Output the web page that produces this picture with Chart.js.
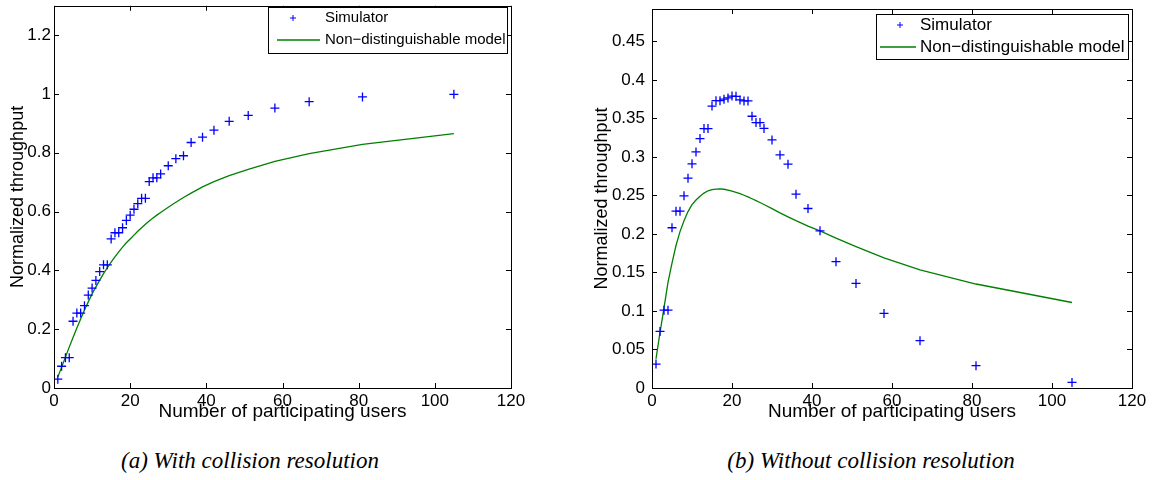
<!DOCTYPE html>
<html>
<head>
<meta charset="utf-8">
<script src="https://cdn.jsdelivr.net/npm/chart.js@4.4.1/dist/chart.umd.min.js"></script>
<style>
body { margin: 0; background: #fff; width: 1155px; height: 480px; overflow: hidden; position: relative; }
.panel { position: absolute; top: 0; height: 425px; }
.cap { position: absolute; top: 448px; font-family: "Liberation Serif", serif; font-style: italic; font-size: 23px; white-space: nowrap; transform: translateX(-50%); color: #000; }
</style>
</head>
<body>
<div class="panel" style="left:0;width:540px"><canvas id="chartA"></canvas></div>
<div class="panel" style="left:590px;width:565px"><canvas id="chartB"></canvas></div>
<div class="cap" style="left:250px">(a) With collision resolution</div>
<div class="cap" style="left:871px">(b) Without collision resolution</div>
<script>
// number of participating users (same x for both panels)
const users = [1,2,3,4,5,6,7,8,9,10,11,12,13,14,15,16,17,18,19,20,21,22,23,24,25,26,27,28,30,32,34,36,39,42,46,51,58,67,81,105];

// (a) with collision resolution
const simA = [0.030,0.074,0.103,0.103,0.227,0.255,0.255,0.280,0.316,0.340,0.366,0.396,0.419,0.419,0.507,0.528,0.528,0.545,0.570,0.588,
              0.608,0.627,0.645,0.645,0.702,0.715,0.715,0.728,0.756,0.780,0.790,0.835,0.853,0.877,0.907,0.927,0.952,0.974,0.990,0.999];
const modelA = [0.037,0.071,0.105,0.139,0.172,0.204,0.235,0.265,0.293,0.320,0.344,0.367,0.389,0.409,0.428,0.446,0.463,0.479,0.494,0.507,
                0.520,0.533,0.545,0.557,0.568,0.578,0.588,0.597,0.615,0.632,0.648,0.663,0.684,0.702,0.722,0.744,0.771,0.797,0.829,0.865];

// (b) without collision resolution
const simB = [0.031,0.0735,0.101,0.101,0.208,0.2296,0.2296,0.2495,0.2724,0.291,0.3065,0.3238,0.3368,0.3368,0.366,0.373,0.373,0.375,0.3766,0.379,
              0.3787,0.374,0.3727,0.3727,0.3528,0.3446,0.3446,0.337,0.322,0.3026,0.2905,0.2516,0.233,0.204,0.164,0.1358,0.0968,0.0614,0.029,0.0073];
const modelB = [0.038,0.072,0.104,0.137,0.162,0.185,0.203,0.217,0.229,0.238,0.244,0.249,0.253,0.256,0.2575,0.2582,0.2585,0.258,0.257,0.2555,
                0.254,0.2522,0.2502,0.248,0.2457,0.2433,0.2408,0.2382,0.2328,0.2274,0.2222,0.2172,0.2102,0.204,0.1945,0.1835,0.169,0.1535,0.135,0.111];

const legendLabels = ['Simulator', 'Non\u2212distinguishable model'];
const FAMILY = '"Liberation Sans", Arial, sans-serif';

function pts(xs, ys) {
  return xs.map((x, i) => ({ x: x, y: ys[i] }));
}

// MATLAB style box with inward ticks, plus the legend box
const matlabAxes = {
  id: 'matlabAxes',
  afterDraw(chart, args, opts) {
    const ctx = chart.ctx;
    const a = chart.chartArea;
    const xs = chart.scales.x, ys = chart.scales.y;
    ctx.save();
    ctx.strokeStyle = '#000';
    ctx.lineWidth = 1;
    ctx.beginPath();
    xs.ticks.forEach(t => {
      const px = Math.round(xs.getPixelForValue(t.value)) + 0.5;
      ctx.moveTo(px, a.bottom); ctx.lineTo(px, a.bottom - 5);
      ctx.moveTo(px, a.top); ctx.lineTo(px, a.top + 5);
    });
    ys.ticks.forEach(t => {
      const py = Math.round(ys.getPixelForValue(t.value)) + 0.5;
      ctx.moveTo(a.left, py); ctx.lineTo(a.left + 5, py);
      ctx.moveTo(a.right, py); ctx.lineTo(a.right - 5, py);
    });
    ctx.stroke();
    ctx.strokeRect(Math.round(a.left) + 0.5, Math.round(a.top) + 0.5, Math.round(a.right - a.left), Math.round(a.bottom - a.top));

    // legend
    const L = opts.box;
    ctx.fillStyle = '#fff';
    ctx.fillRect(L.x, L.y, L.w, L.h);
    ctx.strokeRect(L.x + 0.5, L.y + 0.5, L.w, L.h);
    const d0 = chart.data.datasets[0], d1 = chart.data.datasets[1];
    ctx.strokeStyle = d0.borderColor;
    ctx.lineWidth = 1;
    ctx.beginPath();
    ctx.moveTo(L.mx - 3, L.r1); ctx.lineTo(L.mx + 3, L.r1);
    ctx.moveTo(L.mx, L.r1 - 3); ctx.lineTo(L.mx, L.r1 + 3);
    ctx.stroke();
    ctx.strokeStyle = d1.borderColor;
    ctx.lineWidth = d1.borderWidth;
    ctx.beginPath();
    ctx.moveTo(L.l1, L.r2); ctx.lineTo(L.l2, L.r2);
    ctx.stroke();
    ctx.fillStyle = '#000';
    ctx.font = L.fs + 'px ' + FAMILY;
    ctx.textBaseline = 'middle';
    ctx.fillText(d0.label, L.tx, L.r1);
    ctx.fillText(d1.label, L.tx, L.r2);
    ctx.restore();
  }
};

function fmt(v) {
  return String(+v.toFixed(3));
}

function makeChart(id, sim, model, yMax, yStep, yWidth, yPad, yTitlePad, pad, box) {
  const ctx = document.getElementById(id).getContext('2d');
  return new Chart(ctx, {
    type: 'line',
    data: {
      datasets: [{
        label: legendLabels[0],
        data: pts(users, sim),
        showLine: false,
        pointStyle: 'cross',
        pointRadius: 4.5,
        pointBorderWidth: 1.3,
        borderColor: '#0000ff',
        backgroundColor: '#0000ff'
      }, {
        label: legendLabels[1],
        data: pts(users, model),
        borderColor: '#008000',
        borderWidth: 1.3,
        pointRadius: 0,
        tension: 0,
        fill: false
      }]
    },
    options: {
      responsive: true,
      maintainAspectRatio: false,
      animation: false,
      layout: { padding: pad },
      scales: {
        x: {
          type: 'linear',
          min: 0,
          max: 120,
          grid: { display: false, drawTicks: false },
          border: { display: false },
          afterFit: s => { s.height = 37; },
          ticks: { stepSize: 20, color: '#000', font: { size: 17, family: FAMILY }, padding: 3, maxRotation: 0 },
          title: { display: true, text: 'Number of participating users', color: '#000', padding: 2,
                   font: { size: 19, family: FAMILY } }
        },
        y: {
          min: 0,
          max: yMax,
          grid: { display: false, drawTicks: false },
          border: { display: false },
          afterFit: s => { s.width = yWidth; s.paddingTop = 0; s.paddingBottom = 0; },
          ticks: { stepSize: yStep, includeBounds: false, callback: fmt, color: '#000', padding: yPad,
                   font: { size: 17, family: FAMILY } },
          title: { display: true, text: 'Normalized throughput', color: '#000', padding: yTitlePad,
                   font: { size: 18, family: FAMILY } }
        }
      },
      plugins: {
        legend: { display: false },
        tooltip: { enabled: false },
        matlabAxes: { box: box }
      }
    },
    plugins: [matlabAxes]
  });
}

makeChart('chartA', simA, modelA, 1.3, 0.2, 54, 3, 7, { top: 2, right: 29, left: 0, bottom: 0 },
  { x: 268, y: 7, w: 239, h: 46, mx: 293, r1: 18, l1: 277, l2: 320, r2: 40, tx: 325, fs: 15 });
makeChart('chartB', simB, modelB, 0.492, 0.05, 62, 7, 1, { top: 9, right: 23, left: 0, bottom: 0 },
  { x: 286, y: 14, w: 252, h: 45, mx: 310, r1: 25, l1: 290, l2: 326, r2: 47, tx: 330, fs: 17 });
</script>
</body>
</html>
